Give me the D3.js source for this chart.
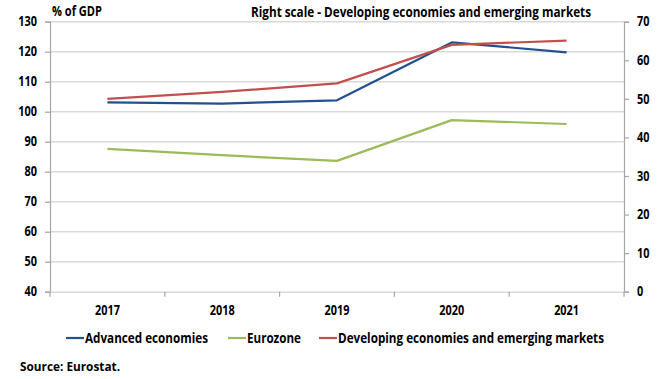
<!DOCTYPE html>
<html>
<head>
<meta charset="utf-8">
<script src="https://cdn.jsdelivr.net/npm/d3@7/dist/d3.min.js"></script>
<style>
  html, body { margin: 0; padding: 0; background: #fff; }
  svg text { font-family: "Liberation Sans Narrow", "Open Sans", "DejaVu Sans Condensed", sans-serif; font-weight: bold; fill: #000; }
</style>
</head>
<body>
<svg id="chart" width="665" height="379"></svg>
<script>
// Government debt, % of GDP
const years = ["2017", "2018", "2019", "2020", "2021"];
const advanced = [103.1, 102.7, 103.8, 123.1, 119.8];
const eurozone = [87.6, 85.5, 83.6, 97.2, 95.9];
const developing = [50.0, 51.8, 54.0, 64.0, 65.1]; // right scale
const leftTicks = [40, 50, 60, 70, 80, 90, 100, 110, 120, 130];
const rightTicks = [0, 10, 20, 30, 40, 50, 60, 70];
const seriesNames = ["Advanced economies", "Eurozone", "Developing economies and emerging markets"];
const seriesColors = ["#23508f", "#9bbb59", "#c0504d"];

const svg = d3.select("#chart");
const plot = { left: 50, right: 624, top: 21.7, bottom: 291.7 };

// condense text to a given width (or by a factor of its natural width)
function fit(sel, width) {
  sel.each(function () {
    const w = typeof width === "number" && width > 2 ? width : this.getComputedTextLength() * (width || 0.84);
    d3.select(this).attr("textLength", w).attr("lengthAdjust", "spacingAndGlyphs");
  });
}

const x = d3.scaleBand().domain(years).range([plot.left, plot.right]);
const yL = d3.scaleLinear().domain([40, 130]).range([plot.bottom, plot.top]);
const yR = d3.scaleLinear().domain([0, 70]).range([plot.bottom, plot.top]);

// horizontal gridlines
svg.append("g").selectAll("line").data(leftTicks.filter(d => d > 40)).join("line")
  .attr("x1", plot.left).attr("x2", plot.right)
  .attr("y1", d => yL(d)).attr("y2", d => yL(d))
  .attr("stroke", "#d9d9d9").attr("stroke-width", 1.6);

// left axis
const gL = svg.append("g").attr("transform", `translate(${plot.left},0)`)
  .call(d3.axisLeft(yL).tickValues(leftTicks).tickSize(5).tickPadding(8));
// right axis
const gR = svg.append("g").attr("transform", `translate(${plot.right},0)`)
  .call(d3.axisRight(yR).tickValues(rightTicks).tickSize(5).tickPadding(8));
// bottom axis with ticks between categories
const gB = svg.append("g").attr("transform", `translate(0,${plot.bottom})`)
  .call(d3.axisBottom(x).tickSize(0).tickPadding(14));

[gL, gR, gB].forEach(g => {
  g.select(".domain").attr("stroke", "#a6a6a6").attr("stroke-width", 1.2);
  g.selectAll(".tick line").attr("stroke", "#a6a6a6").attr("stroke-width", 1.2);
  g.selectAll("text").style("font-size", "13.3px").attr("fill", "#000").call(fit, 0.82);
});
gB.select(".domain").attr("stroke", "#d9d9d9").attr("stroke-width", 1.6);

// category separators on the x axis
const bounds = years.map(d => x(d)).concat([x(years[years.length - 1]) + x.bandwidth()]);
svg.append("g").selectAll("line").data(bounds).join("line")
  .attr("x1", d => d).attr("x2", d => d)
  .attr("y1", plot.bottom).attr("y2", plot.bottom + 5)
  .attr("stroke", "#a6a6a6").attr("stroke-width", 1.2);

// series lines
const cx = d => x(d) + x.bandwidth() / 2;
const series = [
  { values: advanced, y: yL },
  { values: eurozone, y: yL },
  { values: developing, y: yR }
];
series.forEach((s, i) => {
  const line = d3.line().x((d, j) => cx(years[j])).y(d => s.y(d));
  svg.append("path").datum(s.values)
    .attr("d", line)
    .attr("fill", "none")
    .attr("stroke", seriesColors[i])
    .attr("stroke-width", 2.2)
    .attr("stroke-linejoin", "round");
});

// titles
svg.append("text").attr("x", 52).attr("y", 16).style("font-size", "13.3px").text("% of GDP").call(fit, 50);
svg.append("text").attr("x", 251).attr("y", 17).style("font-size", "13.3px")
  .text("Right scale - Developing economies and emerging markets").call(fit, 340);

// legend
const legendX = [66, 228, 319];
const legendW = [123, 54, 266];
const lg = svg.append("g");
seriesNames.forEach((n, i) => {
  lg.append("line").attr("x1", legendX[i]).attr("x2", legendX[i] + 18)
    .attr("y1", 338).attr("y2", 338)
    .attr("stroke", seriesColors[i]).attr("stroke-width", 2.2);
  lg.append("text").attr("x", legendX[i] + 19).attr("y", 343)
    .style("font-size", "13.3px").text(n).call(fit, legendW[i]);
});

// source note
svg.append("text").attr("x", 20).attr("y", 371).style("font-size", "12.5px").text("Source: Eurostat.").call(fit, 100);
</script>
</body>
</html>
